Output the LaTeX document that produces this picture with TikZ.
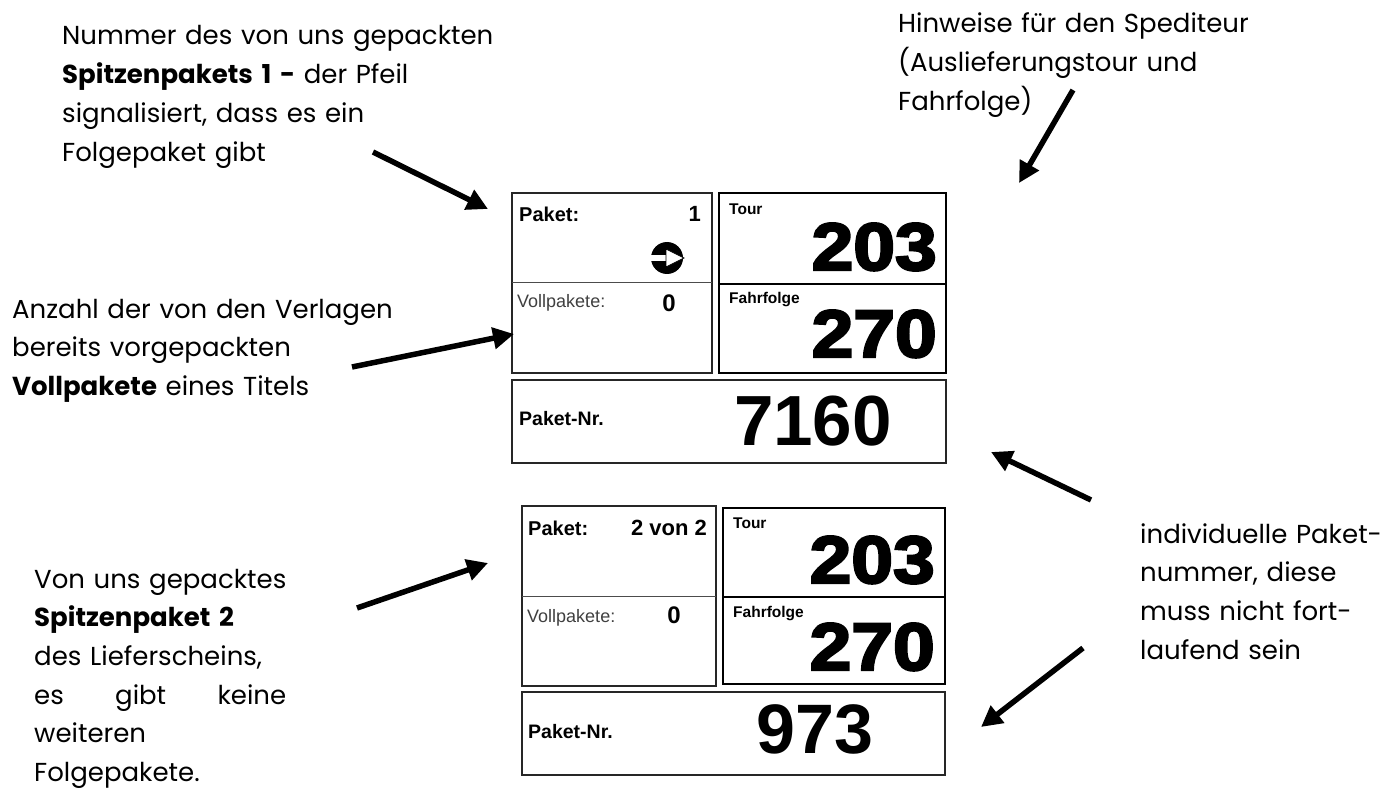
\documentclass[tikz,border=0pt]{standalone}
\usepackage{fontspec}
\usetikzlibrary{arrows.meta}
\newfontfamily\pop{Poppins}
\newfontfamily\ar{Liberation Sans}
\newfontfamily\arblack{Liberation Sans}[BoldFeatures={FakeBold=3.5,FakeStretch=1.12}]
\tikzset{
  anno/.style={inner sep=0pt, anchor=base west, align=left, text width=#1,
    font=\pop\fontsize{26}{38.7}\selectfont},
  pointer/.style={line width=5.5pt, -{Triangle[length=21pt,width=21pt]}},
  lbl/.style={inner sep=0pt},
  boxL/.style={draw=black!85, line width=1.6pt},
  boxR/.style={draw=black, line width=2.2pt},
  divL/.style={draw=black!70, line width=1pt},
  divR/.style={draw=black, line width=1.6pt},
  small/.style={lbl, anchor=base west, font=\ar\bfseries\fontsize{20}{20}\selectfont},
  cnt/.style={lbl, anchor=base east, font=\ar\bfseries\fontsize{22}{22}\selectfont},
  vollp/.style={lbl, anchor=base west, text=black!75, font=\ar\fontsize{18}{18}\selectfont},
  zero/.style={lbl, anchor=base, font=\ar\bfseries\fontsize{24}{24}\selectfont},
  tiny/.style={lbl, anchor=base west, font=\ar\bfseries\fontsize{15.5}{15.5}\selectfont},
  big/.style={lbl, anchor=base east, font=\arblack\bfseries\fontsize{67}{67}\selectfont},
  nr/.style={lbl, anchor=base, font=\ar\bfseries\fontsize{71}{71}\selectfont},
}
\begin{document}
\begin{tikzpicture}[x=1pt,y=-1pt]
\useasboundingbox[fill=white] (0,0) rectangle (1397,794);

% ---------- annotations ----------
\node[anno=460pt] (tA) at (62,45) {Nummer des von uns gepackten\\
\textbf{Spitzenpakets 1 -} der Pfeil\\
signalisiert, dass es ein\\
Folgepaket gibt};

\node[anno=420pt] (tB) at (12,318) {Anzahl der von den Verlagen\\
bereits vorgepackten\\
\textbf{Vollpakete} eines Titels};

\node[anno=260pt] (tC) at (34,588) {Von uns gepacktes\\
\textbf{Spitzenpaket 2}\\
des Lieferscheins,\\
\makebox[252pt][l]{es\hfill gibt\hfill keine}\\
weiteren\\
Folgepakete.};

\node[anno=420pt] (tD) at (898,33) {Hinweise für den Spediteur\\
(Auslieferungstour und\\
Fahrfolge)};

\node[anno=250pt] (tE) at (1140,543) {individuelle Paket-\\
nummer, diese\\
muss nicht fort-\\
laufend sein};

% ---------- upper label ----------
\draw[boxL] (512,193) rectangle (712,373);
\draw[divL] (512,283) -- (712,283);
\draw[boxR] (719,193) rectangle (946,373);
\draw[divR] (719,284) -- (946,284);
\draw[boxL] (512,380) rectangle (946,463);

\node[small] (p1) at (519,222) {Paket:};
\node[cnt] (n1) at (701,222) {1};
\fill[black] (667,258) circle (16);
\fill[white] (651,255) rectangle (668,261);
\filldraw[fill=white, draw=black, line width=0.8pt] (666,249) -- (684,258) -- (666,267) -- cycle;
\node[vollp] (v1) at (517,308) {Vollpakete:};
\node[zero] (z1) at (669,312) {0};
\node[tiny] (t1) at (729,215) {Tour};
\node[big] (b1) at (937,270) {203};
\node[tiny] (f1) at (729,304) {Fahrfolge};
\node[big] (c1) at (937,357) {270};
\node[small, font=\ar\bfseries\fontsize{19.5}{19.5}\selectfont] (k1) at (519,425) {Paket-Nr.};
\node[nr] (m1) at (813,445) {7160};

% ---------- lower label ----------
\draw[boxL] (522,506) rectangle (716,686);
\draw[divL] (522,596) -- (716,596);
\draw[boxR] (723,508) rectangle (945,684);
\draw[divR] (723,597) -- (945,597);
\draw[boxL] (522,692) rectangle (945,775);

\node[small] (p2) at (528,535) {Paket:};
\node[cnt] (n2) at (707,535) {2 von 2};
\node[vollp] (v2) at (527,622) {Vollpakete:};
\node[zero] (z2) at (674,623) {0};
\node[tiny] (t2) at (733,528) {Tour};
\node[big] (b2) at (935,583) {203};
\node[tiny] (f2) at (733,617) {Fahrfolge};
\node[big] (c2) at (935,670) {270};
\node[small, font=\ar\bfseries\fontsize{19.5}{19.5}\selectfont] (k2) at (528,738) {Paket-Nr.};
\node[nr, font=\ar\bfseries\fontsize{70}{70}\selectfont] (m2) at (815,753) {973};

% ---------- arrows ----------
\coordinate (a1s) at (373,152); \coordinate (a1e) at (488,209);
\coordinate (a2s) at (352,367); \coordinate (a2e) at (514,334);
\coordinate (a3s) at (357,608); \coordinate (a3e) at (488,563);
\coordinate (a4s) at (1073,90); \coordinate (a4e) at (1019,183);
\coordinate (a5s) at (1091,500); \coordinate (a5e) at (991,452);
\coordinate (a6s) at (1083,648); \coordinate (a6e) at (981,727);
\draw[pointer] (a1s) -- (a1e);
\draw[pointer] (a2s) -- (a2e);
\draw[pointer] (a3s) -- (a3e);
\draw[pointer] (a4s) -- (a4e);
\draw[pointer] (a5s) -- (a5e);
\draw[pointer] (a6s) -- (a6e);
\end{tikzpicture}
\end{document}
